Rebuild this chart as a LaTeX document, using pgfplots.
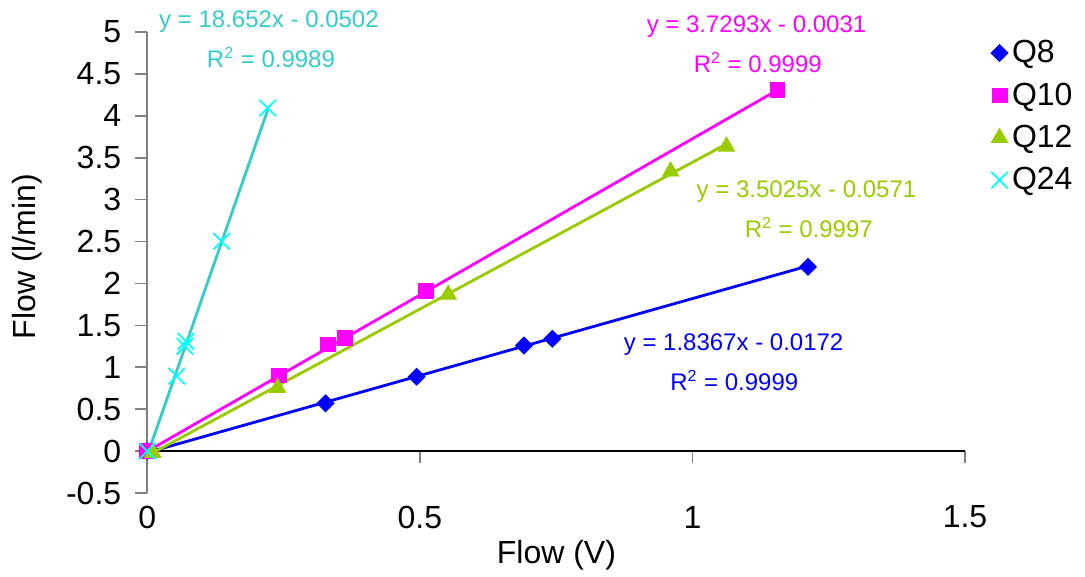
\documentclass[border=0pt]{standalone}
\usepackage{fontspec}
\setmainfont{Liberation Sans}
\usepackage{pgfplots}
\pgfplotsset{compat=1.18}

\definecolor{cQeight}{HTML}{0000FF}
\definecolor{cQten}{HTML}{FF00FF}
\definecolor{cQtwelve}{HTML}{99CC00}
\definecolor{cQtwfour}{HTML}{00FFFF}
\definecolor{cQtwfourline}{HTML}{33CCCC}

\newcommand{\tickfont}{\fontsize{16}{18}\selectfont}
\newcommand{\labfont}{\fontsize{16}{18}\selectfont}
\newcommand{\eqfont}{\fontsize{12}{14}\selectfont}

\begin{document}
\begin{tikzpicture}
\useasboundingbox (-73.65pt,-42pt) rectangle (468.85pt,246.5pt);
\begin{axis}[
  scale only axis,
  width=408.85pt, height=230.5pt,
  xmin=0, xmax=1.5, ymin=-0.5, ymax=5,
  axis x line=middle, axis y line=left,
  hide obscured x ticks=false,
  x axis line style={-, black, line width=0.7pt},
  y axis line style={-, gray, line width=1pt},
  xtick={0,0.5,1,1.5},
  ytick={-0.5,0,0.5,1,1.5,2,2.5,3,3.5,4,4.5,5},
  tick align=outside,
  major tick length=6pt,
  tick style={gray, line width=0.8pt},
  /pgf/number format/assume math mode=true,
  ticklabel style={font=\tickfont},
  xticklabel style={anchor=center, yshift=-27pt},
  yticklabel style={anchor=east, xshift=-3.5pt},
  label style={font=\labfont},
  xlabel={Flow (V)},
  ylabel={Flow (l/min)},
  xlabel style={at={(axis description cs:0.5003,-0.1356)}, anchor=center},
  ylabel style={at={(axis description cs:-0.1465,0.5126)}, anchor=center, rotate=0},
  clip=false,
  legend style={at={(axis description cs:1.024,1.0)}, anchor=north west,
    draw=none, fill=none, font=\tickfont, row sep=4.5pt},
  legend cell align=left,
]

% linear trendlines (from min to max x of each series)
\addplot[forget plot, cQeight, line width=1.4pt] coordinates {(0,-0.0172) (1.212,2.2089)};
\addplot[forget plot, cQten, line width=1.4pt] coordinates {(0,-0.0031) (1.156,4.308)};
\addplot[forget plot, cQtwelve, line width=1.4pt] coordinates {(0.01,-0.0221) (1.0625,3.6643)};
\addplot[forget plot, cQtwfourline, line width=1.4pt] coordinates {(0,-0.0502) (0.2208,4.0682)};

% measured points
\addplot[only marks, mark=square*, mark size=3pt, mark options={rotate=45, fill=cQeight, draw=cQeight}]
  coordinates {(0,0) (0.327,0.57) (0.494,0.887) (0.691,1.26) (0.743,1.34) (1.212,2.198)};
\addlegendentry{Q8}
\addplot[only marks, mark=square*, mark size=3.7pt, mark options={fill=cQten, draw=cQten}]
  coordinates {(0,0) (0.2415,0.902) (0.331,1.272) (0.3626,1.352) (0.5105,1.907) (1.156,4.311)};
\addlegendentry{Q10}
\addplot[only marks, mark=triangle*, mark size=4.7pt, mark options={fill=cQtwelve, draw=cQtwelve}]
  coordinates {(0.01,-0.02) (0.239,0.755) (0.552,1.868) (0.960,3.337) (1.0625,3.635)};
\addlegendentry{Q12}
\addplot[only marks, mark=x, mark size=5.8pt, mark options={draw=cQtwfour, line width=0.9pt}]
  coordinates {(0,0) (0.054,0.894) (0.069,1.25) (0.071,1.31) (0.1364,2.503) (0.2208,4.093)};
\addlegendentry{Q24}

% trendline equations
\node[font=\eqfont, text=cQtwfourline] at (axis cs:0.2232,5.121) {y = 18.652x - 0.0502};
\node[font=\eqfont, text=cQtwfourline] at (axis cs:0.2268,4.692) {R\textsuperscript{2} = 0.9989};
\node[font=\eqfont, text=cQten] at (axis cs:1.1176,5.066) {y = 3.7293x - 0.0031};
\node[font=\eqfont, text=cQten] at (axis cs:1.1199,4.633) {R\textsuperscript{2} = 0.9999};
\node[font=\eqfont, text=cQtwelve] at (axis cs:1.2092,3.099) {y = 3.5025x - 0.0571};
\node[font=\eqfont, text=cQtwelve] at (axis cs:1.2134,2.670) {R\textsuperscript{2} = 0.9997};
\node[font=\eqfont, text=cQeight] at (axis cs:1.0755,1.272) {y = 1.8367x - 0.0172};
\node[font=\eqfont, text=cQeight] at (axis cs:1.0768,0.846) {R\textsuperscript{2} = 0.9999};
\end{axis}
\end{tikzpicture}
\end{document}
